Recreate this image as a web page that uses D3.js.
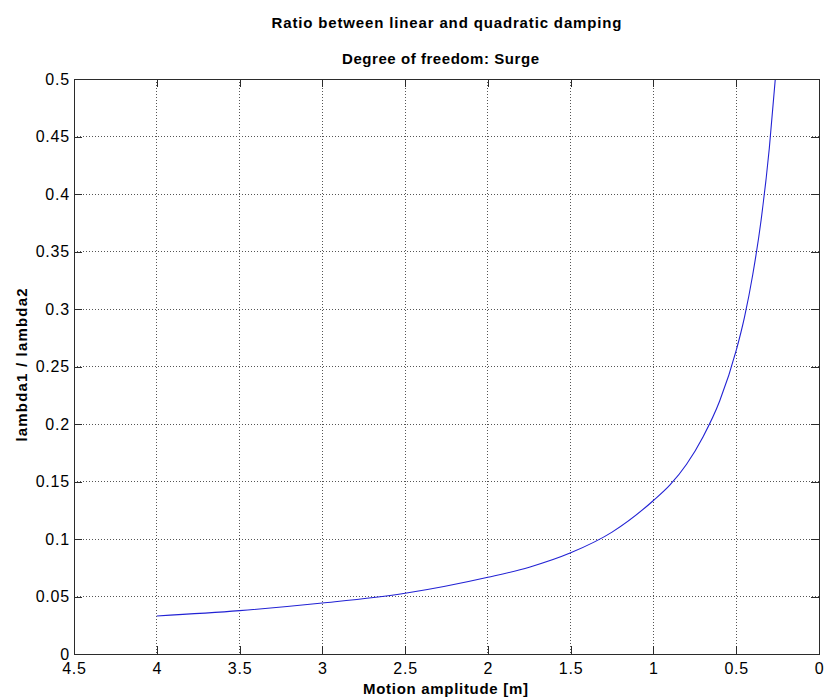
<!DOCTYPE html>
<html>
<head>
<meta charset="utf-8">
<script src="https://cdn.jsdelivr.net/npm/d3@7"></script>
<style>
  html, body { margin: 0; padding: 0; background: #fff; }
  svg { display: block; font-family: "Liberation Sans", Arial, Helvetica, sans-serif; }
</style>
</head>
<body>
<svg id="chart" width="826" height="698"></svg>
<script>
// Motion amplitude [m] and the damping ratio lambda1 / lambda2 at that amplitude
const amplitude = [4.0, 3.5, 3.0, 2.5, 2.0, 1.75, 1.5, 1.25, 1.0, 0.9, 0.8, 0.7, 0.6, 0.5, 0.45, 0.4, 0.35, 0.3, 0.264];
const ratio     = [0.033, 0.0377, 0.0443, 0.0528, 0.0667, 0.0755, 0.088, 0.106, 0.1335, 0.147, 0.165, 0.189, 0.22, 0.264, 0.293, 0.33, 0.377, 0.44, 0.5];

const xTicks = [4.5, 4, 3.5, 3, 2.5, 2, 1.5, 1, 0.5, 0];
const yTicks = [0, 0.05, 0.1, 0.15, 0.2, 0.25, 0.3, 0.35, 0.4, 0.45, 0.5];

const titleText = "Ratio between linear and quadratic damping";
const subtitleText = "Degree of freedom: Surge";
const xLabel = "Motion amplitude [m]";
const yLabel = "lambda1 / lambda2";

const W = 826, H = 698;
const margin = { left: 74, right: 7, top: 79, bottom: 44 };
const innerW = W - margin.left - margin.right;
const innerH = H - margin.top - margin.bottom;

const svg = d3.select("#chart");
const g = svg.append("g").attr("transform", `translate(${margin.left},${margin.top})`);

// Reversed x axis: large amplitudes on the left
const x = d3.scaleLinear().domain([4.5, 0]).range([0, innerW]);
const y = d3.scaleLinear().domain([0, 0.5]).range([innerH, 0]);

const fmt = d => String(d);
const axisColor = "#2b2b2b";
const tickLen = 8;
const tickFont = 16;

// Dotted grid
const grid = g.append("g").attr("class", "grid");
grid.selectAll("line.v").data(xTicks.filter(d => d !== 4.5 && d !== 0)).join("line")
  .attr("x1", d => x(d)).attr("x2", d => x(d))
  .attr("y1", 0).attr("y2", innerH)
  .attr("stroke", "#555").attr("stroke-width", 1)
  .attr("stroke-dasharray", "1,2")
  .attr("shape-rendering", "crispEdges");
grid.selectAll("line.h").data(yTicks.filter(d => d !== 0 && d !== 0.5)).join("line")
  .attr("x1", 0).attr("x2", innerW)
  .attr("y1", d => y(d)).attr("y2", d => y(d))
  .attr("stroke", "#555").attr("stroke-width", 1)
  .attr("stroke-dasharray", "1,2")
  .attr("shape-rendering", "crispEdges");

// Data curve
const pts = amplitude.map((a, i) => [a, ratio[i]]);
const line = d3.line().x(d => x(d[0])).y(d => y(d[1])).curve(d3.curveMonotoneX);
g.append("path").datum(pts)
  .attr("fill", "none").attr("stroke", "#2222d4").attr("stroke-width", 1.1)
  .attr("d", line);

// Axes with inward ticks on all four sides
function styleAxis(sel, showText) {
  sel.select(".domain").attr("stroke", axisColor).attr("stroke-width", 1);
  sel.selectAll(".tick line").attr("stroke", axisColor);
  sel.selectAll("text").attr("fill", "#000").attr("font-size", tickFont)
    .attr("letter-spacing", "0.8px");
  if (!showText) sel.selectAll("text").remove();
  sel.attr("shape-rendering", "crispEdges");
}

const xBottom = g.append("g").attr("transform", `translate(0,${innerH})`)
  .call(d3.axisBottom(x).tickValues(xTicks).tickFormat(fmt).tickSizeInner(-tickLen).tickSizeOuter(0));
styleAxis(xBottom, true);
xBottom.selectAll("text").attr("y", 20).attr("dy", 0);

const xTop = g.append("g")
  .call(d3.axisTop(x).tickValues(xTicks).tickSizeInner(-tickLen).tickSizeOuter(0));
styleAxis(xTop, false);

const yLeft = g.append("g")
  .call(d3.axisLeft(y).tickValues(yTicks).tickFormat(fmt).tickSizeInner(-tickLen).tickSizeOuter(0).tickPadding(4));
styleAxis(yLeft, true);

const yRight = g.append("g").attr("transform", `translate(${innerW},0)`)
  .call(d3.axisRight(y).tickValues(yTicks).tickSizeInner(-tickLen).tickSizeOuter(0));
styleAxis(yRight, false);

// Titles and axis labels
const cx = margin.left + innerW / 2;
svg.append("text").attr("x", cx).attr("y", 28)
  .attr("text-anchor", "middle").attr("font-size", 15).attr("font-weight", "bold")
  .attr("textLength", 350).attr("lengthAdjust", "spacing")
  .text(titleText);
svg.append("text").attr("x", cx - 6).attr("y", 64)
  .attr("text-anchor", "middle").attr("font-size", 15).attr("font-weight", "bold")
  .attr("textLength", 197).attr("lengthAdjust", "spacing")
  .text(subtitleText);
svg.append("text").attr("x", cx - 1).attr("y", 694)
  .attr("text-anchor", "middle").attr("font-size", 15).attr("font-weight", "bold")
  .attr("textLength", 165).attr("lengthAdjust", "spacing")
  .text(xLabel);
svg.append("text")
  .attr("transform", `translate(27,365) rotate(-90)`)
  .attr("text-anchor", "middle").attr("font-size", 15).attr("font-weight", "bold")
  .attr("textLength", 153).attr("lengthAdjust", "spacing")
  .text(yLabel);
</script>
</body>
</html>
